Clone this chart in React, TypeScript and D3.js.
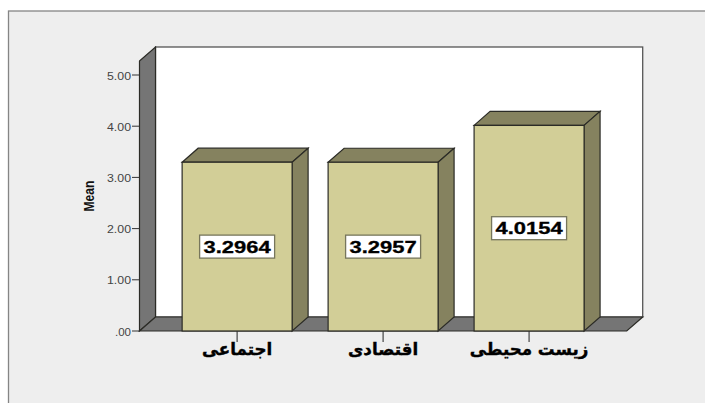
import React from "react";
import * as d3 from "d3";

const categories = ["اجتماعی", "اقتصادی", "زیست محیطی"];
const means = [3.2964, 3.2957, 4.0154];
const yTicks = [0, 1, 2, 3, 4, 5];
const yTickLabels = [".00", "1.00", "2.00", "3.00", "4.00", "5.00"];
const yAxisTitle = "Mean";

const W = 705, H = 403;
const floorY = 331, y5 = 75, wallTop = 61;
const left = 139.5, right = 626.7;
const dx = 16, dy = -14;
const BG = "#eeeeee", EDGE = "#2b2b26", WALL = "#757575";
const FRONT = "#d2ce97", SIDE = "#85825f";
const pts = (a: number[][]) => a.map((p) => p.join(",")).join(" ");

export default function App() {
  const y = d3.scaleLinear().domain([0, 5]).range([floorY, y5]);
  const x = d3.scaleBand<string>().domain(categories).range([left, right]).paddingInner(0.2466).paddingOuter(0.292);
  const bw = x.bandwidth();
  return (
    <svg width={W} height={H} style={{ position: "fixed", left: 0, top: 0, display: "block" }}>
      <rect width={W} height={H} fill="#ffffff" />
      <rect x={8.5} y={11} width={W} height={H} fill={BG} stroke="#858585" strokeWidth={1.3} />
      {/* back wall */}
      <rect x={left + dx} y={wallTop + dy} width={right - left} height={floorY - wallTop} fill="#fff" stroke="#555" strokeWidth={1.3} />
      {/* left wall */}
      <polygon points={pts([[left, wallTop], [left + dx, wallTop + dy], [left + dx, floorY + dy], [left, floorY]])} fill={WALL} stroke={EDGE} strokeWidth={1.2} />
      {/* floor */}
      <polygon points={pts([[left, floorY], [left + dx, floorY + dy], [right + dx, floorY + dy], [right, floorY]])} fill={WALL} stroke={EDGE} strokeWidth={1.2} />
      {/* y axis */}
      {yTicks.map((t, i) => (
        <g key={t}>
          <line x1={132} x2={left} y1={y(t)} y2={y(t)} stroke="#333" strokeWidth={1} />
          <text x={131} y={y(t) + 4.5} textAnchor="end" fontFamily="'Liberation Sans'" fontSize={10} fill="#444"
            textLength={i === 0 ? 16 : 24} lengthAdjust="spacingAndGlyphs">{yTickLabels[i]}</text>
        </g>
      ))}
      <text transform="translate(93.5,196) rotate(-90)" textAnchor="middle" fontFamily="'Liberation Sans'" fontWeight="bold" fontSize={15} fill="#111"
        textLength={31} lengthAdjust="spacingAndGlyphs">{yAxisTitle}</text>
      {/* bars */}
      {categories.map((c, i) => {
        const x0 = x(c)!, x1 = x0 + bw, top = y(means[i]), cx = x0 + bw / 2, my = (top + floorY) / 2;
        return (
          <g key={c}>
            <line x1={cx} x2={cx} y1={floorY} y2={342} stroke="#444" strokeWidth={1.2} />
            <polygon points={pts([[x0, top], [x0 + dx, top + dy], [x1 + dx, top + dy], [x1, top]])} fill={SIDE} stroke={EDGE} strokeWidth={1.2} />
            <polygon points={pts([[x1, top], [x1 + dx, top + dy], [x1 + dx, floorY + dy], [x1, floorY]])} fill={SIDE} stroke={EDGE} strokeWidth={1.2} />
            <rect x={x0} y={top} width={bw} height={floorY - top} fill={FRONT} stroke={EDGE} strokeWidth={1.2} />
            <rect x={cx - 37.5} y={my - 11.5} width={75} height={23} fill="#fff" stroke="#77765c" strokeWidth={1.3} />
            <text x={cx} y={my + 6} textAnchor="middle" fontFamily="'Liberation Sans'" fontWeight="bold" fontSize={16} fill="#000"
              stroke="#000" strokeWidth={0.3} textLength={67} lengthAdjust="spacingAndGlyphs">{means[i].toFixed(4)}</text>
            <text x={cx} y={355} textAnchor="middle" direction="rtl" fontFamily="'DejaVu Sans'" fontWeight="bold" fontSize={16.7} fill="#000"
              stroke="#000" strokeWidth={0.4}>{c}</text>
          </g>
        );
      })}
    </svg>
  );
}
